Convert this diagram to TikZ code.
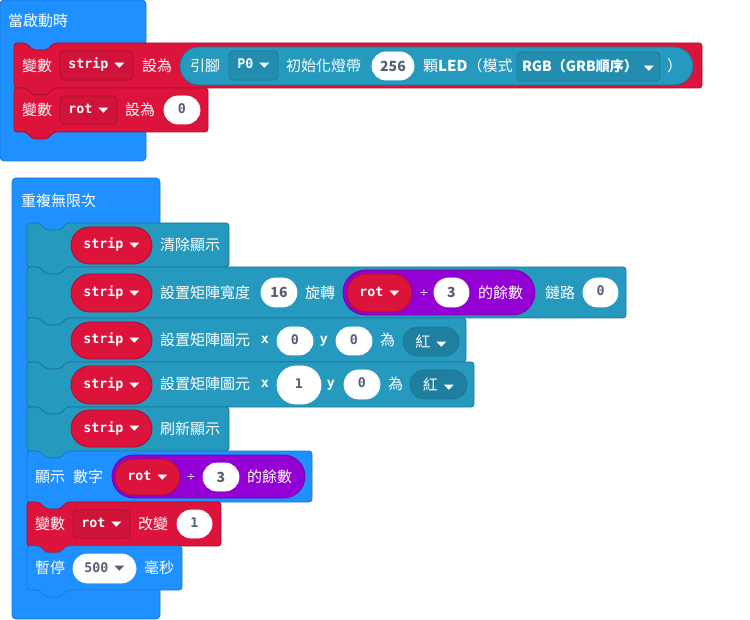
\documentclass[tikz,border=0pt]{standalone}
\usepackage{fontspec}
\usepackage{graphicx}
\newfontfamily\cjk{Noto Sans CJK TC}
\newfontfamily\monof{DejaVu Sans Mono}
\newfontfamily\dvs{DejaVu Sans}
\definecolor{bluF}{HTML}{1E90FF}
\definecolor{bluD}{HTML}{1A78D6}
\definecolor{redF}{HTML}{DC143C}
\definecolor{redD}{HTML}{A8102E}
\definecolor{redDD}{HTML}{CF1339}
\definecolor{tealF}{HTML}{2699BF}
\definecolor{tealD}{HTML}{1D7898}
\definecolor{tealDD}{HTML}{238DB0}
\definecolor{tealK}{HTML}{1F7FA0}
\definecolor{purF}{HTML}{9400D3}
\definecolor{purD}{HTML}{7400A8}
\definecolor{numG}{HTML}{575E75}
\newcommand\tri{\hspace{6pt}{\dvs\fontsize{8}{8}\selectfont\raisebox{1.3pt}{\scalebox{1.65}[0.85]{▼}}}}
\newcommand\stmt[6]{\draw[fill=#5,draw=#6,line width=0.8pt,rounded corners=3pt]
 (#1,#2) -- ({#1+12},#2) -- ({#1+19},{#2+7}) -- ({#1+33},{#2+7}) -- ({#1+40},#2) -- (#3,#2) -- (#3,#4) -- ({#1+40},#4) -- ({#1+33},{#4+7}) -- ({#1+19},{#4+7}) -- ({#1+12},#4) -- (#1,#4) -- cycle;}
\newcommand\pillbox[6]{\pgfmathsetmacro\pr{(#4-#2)/2}\draw[fill=#5,draw=#6,line width=0.8pt,rounded corners=\pr pt] (#1,#2) rectangle (#3,#4);}
\newcommand\rbox[6]{\draw[fill=#5,draw=#6,line width=0.8pt,rounded corners=4pt] (#1,#2) rectangle (#3,#4);}
\tikzset{
 lbl/.style={anchor=west,inner sep=0pt,text=white,font=\cjk\fontsize{15}{15}\selectfont},
 lblc/.style={inner sep=0pt,text=white,font=\cjk\fontsize{15}{15}\selectfont},
 mono/.style={inner sep=0pt,text=white,text height=10pt,text depth=3pt,font=\monof\bfseries\fontsize{13.3}{14}\selectfont},
 numt/.style={inner sep=0pt,text=numG,text height=10pt,text depth=3pt,font=\monof\bfseries\fontsize{13.3}{14}\selectfont},
 nums/.style={inner sep=0pt,text=numG,font=\cjk\bfseries\fontsize{14}{14}\selectfont},
 ddt/.style={inner sep=0pt,text=white,font=\cjk\bfseries\fontsize{14}{14}\selectfont},
 divt/.style={inner sep=0pt,text=white,font=\dvs\fontsize{11}{11}\selectfont},
 blk/.style={line width=0.8pt,rounded corners=4pt}
}
\begin{document}
\begin{tikzpicture}[x=1pt,y=-1pt]
\useasboundingbox (0,0) rectangle (750,620);
% ---- on start ----
\draw[blk,fill=bluF,draw=bluD] (0,0) rectangle (146,161);
\node[lbl] (h1) at (8,21) {當啟動時};
\stmt{14}{43}{702}{88}{redF}{redD}
\node[lbl] (v1) at (22,66) {變數};
\rbox{60}{51}{133}{80}{redDD}{redD}
\node[mono] (s1) at (96.5,65.5) {strip\tri};
\node[lbl] (sw1) at (142,66) {設為};
\pillbox{180}{47}{693}{85}{tealF}{tealD}
\node[lbl] (pin) at (190,66) {引腳};
\rbox{229}{51}{278}{80}{tealDD}{tealD}
\node[mono] (p0) at (253.5,65.5) {P0\tri};
\node[lbl] (init) at (286,66) {初始化燈帶};
\pillbox{372}{52}{414}{80}{white}{white}
\node[nums] (n256) at (393,66) {256};
\node[lbl] (led) at (423,66) {顆\textbf{LED}（模式};
\rbox{517}{52}{660}{81}{tealDD}{tealD}
\node[ddt] (mode) at (588,66.5) {RGB（GRB順序）\tri};
\node[lbl] (rp) at (667,66) {）};
\stmt{14}{88}{208}{132}{redF}{redD}
\node[lbl] (v2) at (22,110) {變數};
\rbox{60}{96}{117}{124}{redDD}{redD}
\node[mono] (r1) at (88.5,110) {rot\tri};
\node[lbl] (sw2) at (125,110) {設為};
\pillbox{164}{96}{200}{124}{white}{white}
\node[numt] (z1) at (182,110) {0};
% ---- forever ----
\draw[blk,fill=bluF,draw=bluD] (12,178) rectangle (160,619);
\node[lbl] (fv) at (21,201) {重複無限次};
% row A
\stmt{27}{223}{229}{267}{tealF}{tealD}
\pillbox{71}{227}{152}{264}{redF}{redD}
\node[mono] (sA) at (111.5,245.5) {strip\tri};
\node[lbl] (clr) at (160,245) {清除顯示};
% row B
\stmt{27}{267}{626}{318}{tealF}{tealD}
\pillbox{71}{274}{152}{312}{redF}{redD}
\node[mono] (sB) at (111.5,293) {strip\tri};
\node[lbl] (wid) at (160,293) {設置矩陣寬度};
\pillbox{261}{278}{297}{307}{white}{white}
\node[nums] (n16) at (279,292.5) {16};
\node[lbl] (rotl) at (305,293) {旋轉};
\pillbox{343}{270}{535}{315}{purF}{purD}
\pillbox{347}{274}{412}{312}{redF}{redD}
\node[mono] (rB) at (379.5,293) {rot\tri};
\node[divt] (dB) at (424,293) {÷};
\pillbox{434}{278}{469}{307}{white}{white}
\node[nums] (n3a) at (451.5,292.5) {3};
\node[lbl] (modB) at (478,293) {的餘數};
\node[lbl] (chain) at (545,293) {鏈路};
\pillbox{583}{278}{618}{307}{white}{white}
\node[numt] (z2) at (600.5,292.5) {0};
% row C
\stmt{27}{318}{466}{362}{tealF}{tealD}
\pillbox{71}{322}{152}{359}{redF}{redD}
\node[mono] (sC) at (111.5,340.5) {strip\tri};
\node[lbl] (pxC) at (160,340) {設置矩陣圖元};
\node[mono] (xC) at (265,340.5) {x};
\pillbox{277}{327}{313}{355}{white}{white}
\node[numt] (z3) at (295,341) {0};
\node[mono] (yC) at (324,340.5) {y};
\pillbox{336}{327}{372}{355}{white}{white}
\node[numt] (z4) at (354,341) {0};
\node[lbl] (weiC) at (380,340) {為};
\pillbox{403}{327}{459}{356}{tealK}{tealD}
\node[lblc] (hongC) at (431,341.5) {紅\tri};
% row D
\stmt{27}{362}{474}{407}{tealF}{tealD}
\pillbox{71}{366}{152}{404}{redF}{redD}
\node[mono] (sD) at (111.5,385) {strip\tri};
\node[lbl] (pxD) at (160,384) {設置矩陣圖元};
\node[mono] (xD) at (265,384.5) {x};
\pillbox{277}{366}{321}{404}{white}{white}
\node[numt] (o1) at (299,385) {1};
\node[mono] (yD) at (331,384.5) {y};
\pillbox{344}{370}{380}{399}{white}{white}
\node[numt] (z5) at (362,384.5) {0};
\node[lbl] (weiD) at (388,384) {為};
\pillbox{410}{370}{467}{399}{tealK}{tealD}
\node[lblc] (hongD) at (438.5,384.5) {紅\tri};
% row E
\stmt{27}{407}{229}{451}{tealF}{tealD}
\pillbox{71}{410}{152}{447}{redF}{redD}
\node[mono] (sE) at (111.5,428.5) {strip\tri};
\node[lbl] (shw) at (160,429) {刷新顯示};
% row F
\stmt{27}{451}{312}{502}{bluF}{bluD}
\node[lbl] (disp) at (35,477) {顯示};
\node[lbl] (digit) at (73,477) {數字};
\pillbox{112}{455}{305}{498}{purF}{purD}
\pillbox{115}{459}{180}{495}{redF}{redD}
\node[mono] (rF) at (147.5,477) {rot\tri};
\node[divt] (dF) at (191,477) {÷};
\pillbox{203}{463}{239}{491}{white}{white}
\node[nums] (n3b) at (221,477) {3};
\node[lbl] (modF) at (247,477) {的餘數};
% row G
\stmt{27}{502}{221}{546}{redF}{redD}
\node[lbl] (v3) at (35,524) {變數};
\rbox{73}{510}{130}{538}{redDD}{redD}
\node[mono] (rG) at (101.5,524) {rot\tri};
\node[lbl] (chg) at (138,524) {改變};
\pillbox{177}{510}{212}{538}{white}{white}
\node[numt] (o2) at (194.5,524) {1};
% row H
\stmt{27}{546}{182}{590}{bluF}{bluD}
\node[lbl] (pause) at (35,568) {暫停};
\pillbox{73}{554}{136}{583}{white}{white}
\node[numt] (n500) at (104.5,568.5) {500\tri};
\node[lbl] (ms) at (144,568) {毫秒};
\end{tikzpicture}
\end{document}
